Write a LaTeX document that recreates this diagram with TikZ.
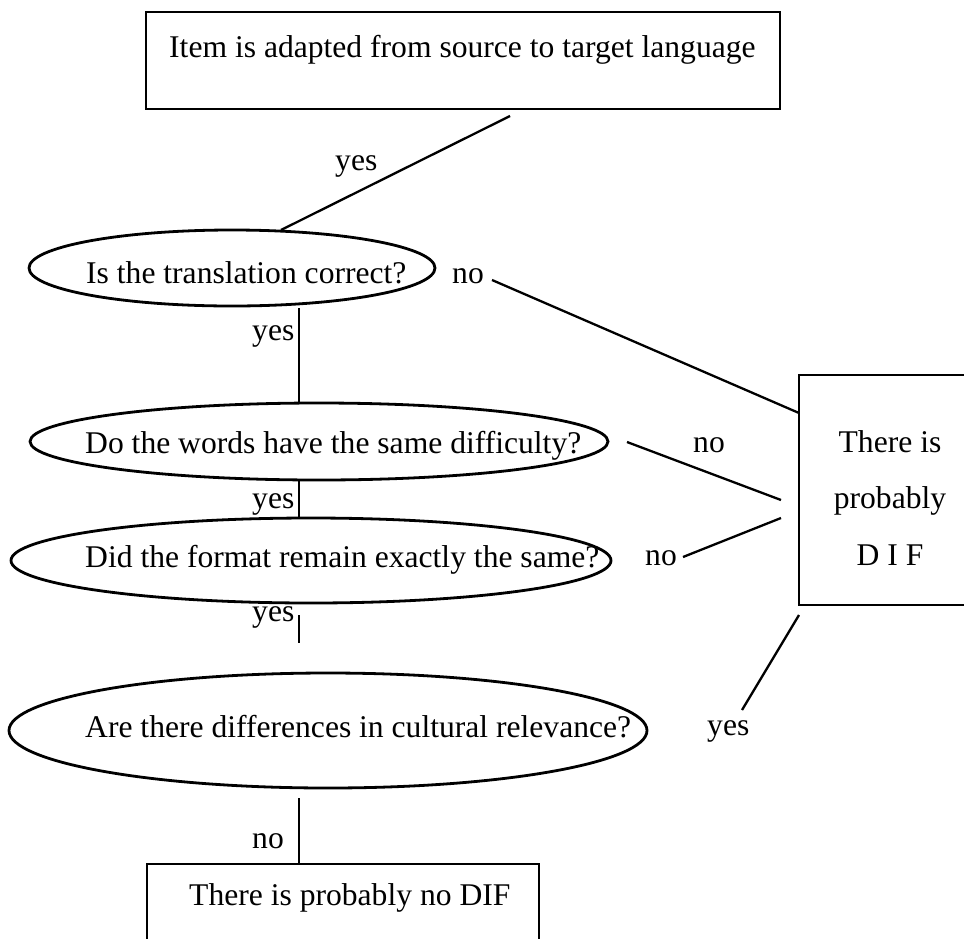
\documentclass[tikz,border=0pt]{standalone}
\usepackage{fontspec}
\setmainfont{Liberation Serif}
\usetikzlibrary{shapes.geometric}
\begin{document}
\begin{tikzpicture}[x=1pt,y=-1pt,
  box/.style={draw,line width=2.8pt,rectangle,inner sep=0pt},
  oval/.style={draw,line width=2.8pt,ellipse,inner sep=0pt},
  conn/.style={line width=2.3pt},
  txt/.style={inner sep=0pt,anchor=base west,font=\fontsize{31.6}{57}\selectfont}]
\useasboundingbox (0,0) rectangle (964,938);
\clip (0,0) rectangle (964,938);
% boxes
\node[box,minimum width=634pt,minimum height=97pt] (top) at (463,60.5) {};
\node[box,minimum width=201pt,minimum height=230pt] (dif) at (899.5,490) {};
\node[box,minimum width=392pt,minimum height=96pt] (nodif) at (343,912) {};
% ellipses
\node[oval,minimum width=406pt,minimum height=76pt] (e1) at (232,268) {};
\node[oval,minimum width=578pt,minimum height=77pt] (e2) at (319,441.5) {};
\node[oval,minimum width=600pt,minimum height=85pt] (e3) at (311,560.5) {};
\node[oval,minimum width=638pt,minimum height=115pt] (e4) at (328,730.5) {};
% texts
\node[txt] (ttop) at (169,57) {Item is adapted from source to target language};
\node[txt] (t1) at (86,283) {Is the translation correct?};
\node[txt] (t2) at (85,453) {Do the words have the same difficulty?};
\node[txt] (t3) at (85,567) {Did the format remain exactly the same?};
\node[txt] (t4) at (85,737) {Are there differences in cultural relevance?};
\node[txt] (tnodif) at (189,905) {There is probably no DIF};
\node[txt,anchor=base] (tdif1) at (890,452) {There is};
\node[txt,anchor=base] (tdif2) at (890,508.5) {probably};
\node[txt,anchor=base] (tdif3) at (890,565) {D I F};
% labels
\node[txt] (l1) at (335,170) {yes};
\node[txt] (l2) at (452,283) {no};
\node[txt] (l3) at (252,340) {yes};
\node[txt] (l4) at (693,452) {no};
\node[txt] (l5) at (252,508) {yes};
\node[txt] (l6) at (645,565) {no};
\node[txt] (l7) at (252,621) {yes};
\node[txt] (l8) at (707,735) {yes};
\node[txt] (l9) at (252,848) {no};
% connector end points
\coordinate (a1) at (510,116);
\coordinate (b1) at (281,230);
\coordinate (a2) at (299,308);
\coordinate (b2) at (299,403);
\coordinate (a3) at (492,280);
\coordinate (b3) at (799,413);
\coordinate (a4) at (627,442);
\coordinate (b4) at (781,500);
\coordinate (a5) at (299,480);
\coordinate (b5) at (299,518);
\coordinate (a6) at (683,557);
\coordinate (b6) at (781,518);
\coordinate (a7) at (299,615);
\coordinate (b7) at (299,643);
\coordinate (a8) at (799,615);
\coordinate (b8) at (742,710);
\coordinate (a9) at (299,798);
\coordinate (b9) at (299,863);
\draw[conn] (a1) -- (b1);
\draw[conn] (a2) -- (b2);
\draw[conn] (a3) -- (b3);
\draw[conn] (a4) -- (b4);
\draw[conn] (a5) -- (b5);
\draw[conn] (a6) -- (b6);
\draw[conn] (a7) -- (b7);
\draw[conn] (a8) -- (b8);
\draw[conn] (a9) -- (b9);
\end{tikzpicture}
\end{document}
